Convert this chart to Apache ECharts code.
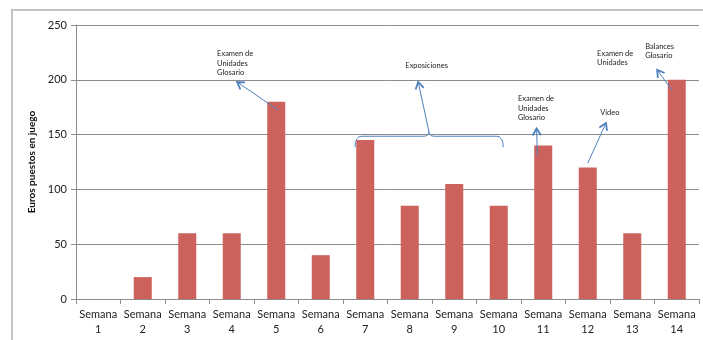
<!DOCTYPE html>
<html>
<head>
<meta charset="utf-8">
<style>
  html, body { margin: 0; padding: 0; background: #fff; }
  #chart { width: 703px; height: 340px; }
</style>
<script src="https://cdn.jsdelivr.net/npm/echarts@6/dist/echarts.min.js"></script>
</head>
<body>
<div id="chart"></div>
<script>
// Weekly amounts of euros at stake
const weeks = ['Semana\n1', 'Semana\n2', 'Semana\n3', 'Semana\n4', 'Semana\n5', 'Semana\n6', 'Semana\n7',
               'Semana\n8', 'Semana\n9', 'Semana\n10', 'Semana\n11', 'Semana\n12', 'Semana\n13', 'Semana\n14'];
const euros = [0, 20, 60, 60, 180, 40, 145, 85, 105, 85, 140, 120, 60, 200];
const yTicks = { min: 0, max: 250, interval: 50 };

// Callout arrows, in week units (week n spans n-1..n) and euros: [x1, y1, x2, y2], head at (x2, y2)
const arrows = [
  [4.54, 172.4, 3.62, 198],
  [7.93, 153, 7.69, 198],
  [10.37, 131, 10.35, 155.5],
  [11.5, 124, 11.91, 160.6],
  [13.39, 190.7, 13.06, 209]
];
// Callout notes: [x, yTop, text]
const notes = [
  [3.17, 228, 'Examen de\nUnidades\nGlosario'],
  [7.4, 217, 'Exposiciones'],
  [9.93, 187, 'Examen de\nUnidades\nGlosario'],
  [11.78, 174, 'Video'],
  [11.71, 228.5, 'Examen de\nUnidades'],
  [12.79, 235, 'Balances\nGlosario']
];
// Brace grouping weeks 7 to 10: [xLeft, xMid, xRight, yBar, yEnds, yCusp]
const brace = [[6.27, 7.93, 9.6, 148.5, 138.5, 153]];

const FONT = 'Lato, "Open Sans", sans-serif';
const BLUE = '#4F81BD';

const chart = echarts.init(document.getElementById('chart'));

function arrowItem(params, api) {
  const p1 = api.coord([api.value(0), api.value(1)]);
  const p2 = api.coord([api.value(2), api.value(3)]);
  const ang = Math.atan2(p2[1] - p1[1], p2[0] - p1[0]);
  const L = 8, spread = 0.55;
  const a = [p2[0] - L * Math.cos(ang - spread), p2[1] - L * Math.sin(ang - spread)];
  const b = [p2[0] - L * Math.cos(ang + spread), p2[1] - L * Math.sin(ang + spread)];
  return {
    type: 'group',
    children: [
      { type: 'line', shape: { x1: p1[0], y1: p1[1], x2: p2[0], y2: p2[1] },
        style: { stroke: BLUE, lineWidth: 1 } },
      { type: 'polyline', shape: { points: [a, p2, b] },
        style: { stroke: BLUE, lineWidth: 1.8, fill: null, lineJoin: 'miter' } }
    ]
  };
}

function noteItem(params, api) {
  const p = api.coord([api.value(0), api.value(1)]);
  return {
    type: 'text',
    x: p[0], y: p[1],
    style: {
      text: notes[params.dataIndex][2],
      fill: '#222',
      fontFamily: FONT,
      fontSize: 7.5,
      lineHeight: 9.5,
      textAlign: 'left',
      textVerticalAlign: 'top'
    }
  };
}

function braceItem(params, api) {
  const v = brace[params.dataIndex];
  const [xl, xm, xr, yb, ye, yc] = v;
  const P = (x, y) => api.coord([x, y]);
  const pts = [
    P(xl, ye), P(xl, yb), P(xl + 0.15, yb),
    P(xm - 0.12, yb), P(xm, yb), P(xm, yc),
    P(xm, yb), P(xm + 0.12, yb),
    P(xr - 0.15, yb), P(xr, yb), P(xr, ye)
  ];
  const f = p => p[0].toFixed(2) + ' ' + p[1].toFixed(2);
  const d = 'M ' + f(pts[0]) + ' Q ' + f(pts[1]) + ' ' + f(pts[2]) +
            ' L ' + f(pts[3]) + ' Q ' + f(pts[4]) + ' ' + f(pts[5]) +
            ' Q ' + f(pts[6]) + ' ' + f(pts[7]) +
            ' L ' + f(pts[8]) + ' Q ' + f(pts[9]) + ' ' + f(pts[10]);
  return {
    type: 'path',
    shape: { pathData: d },
    style: { stroke: BLUE, lineWidth: 1, fill: null }
  };
}

chart.setOption({
  animation: false,
  backgroundColor: '#fff',
  graphic: [{
    // chart frame: left and top edges (the rest falls outside the page)
    type: 'polyline',
    shape: { points: [[12, 400], [12, 10], [1000, 10]] },
    style: { stroke: '#C4C4C4', lineWidth: 2, fill: null },
    silent: true,
    z: -1
  }],
  grid: { left: 76, top: 25, right: 4, bottom: 41 },
  xAxis: [{
    type: 'category',
    data: weeks,
    boundaryGap: true,
    axisLine: { lineStyle: { color: '#8C8C8C', width: 1 } },
    axisTick: { show: true, interval: 0, length: 5, lineStyle: { color: '#8C8C8C' } },
    axisLabel: { interval: 0, color: '#222', fontFamily: FONT, fontSize: 11, lineHeight: 15, margin: 8 }
  }, {
    type: 'value',
    min: 0, max: 14,
    show: false
  }],
  yAxis: {
    type: 'value',
    min: yTicks.min, max: yTicks.max, interval: yTicks.interval,
    name: 'Euros puestos en juego',
    nameLocation: 'middle',
    nameGap: 34,
    nameTextStyle: { color: '#111', fontFamily: FONT, fontSize: 10, fontWeight: 'bold' },
    axisLine: { show: true, lineStyle: { color: '#8C8C8C' } },
    axisTick: { show: true, length: 5, lineStyle: { color: '#8C8C8C' } },
    axisLabel: { color: '#222', fontFamily: FONT, fontSize: 11, margin: 9 },
    splitLine: { lineStyle: { color: '#8C8C8C', width: 1 } }
  },
  series: [{
    type: 'bar',
    data: euros,
    barWidth: 18,
    itemStyle: { color: '#CD625D' }
  }, {
    type: 'custom',
    xAxisIndex: 1,
    renderItem: braceItem,
    data: brace.map(b => [b[0], b[3], b[2], b[5]]),
    encode: { x: [0, 2], y: [1, 3] },
    clip: false,
    silent: true,
    z: 5
  }, {
    type: 'custom',
    xAxisIndex: 1,
    renderItem: arrowItem,
    data: arrows,
    encode: { x: [0, 2], y: [1, 3] },
    clip: false,
    silent: true,
    z: 6
  }, {
    type: 'custom',
    xAxisIndex: 1,
    renderItem: noteItem,
    data: notes.map(n => [n[0], n[1]]),
    encode: { x: 0, y: 1 },
    clip: false,
    silent: true,
    z: 7
  }]
});
</script>
</body>
</html>
